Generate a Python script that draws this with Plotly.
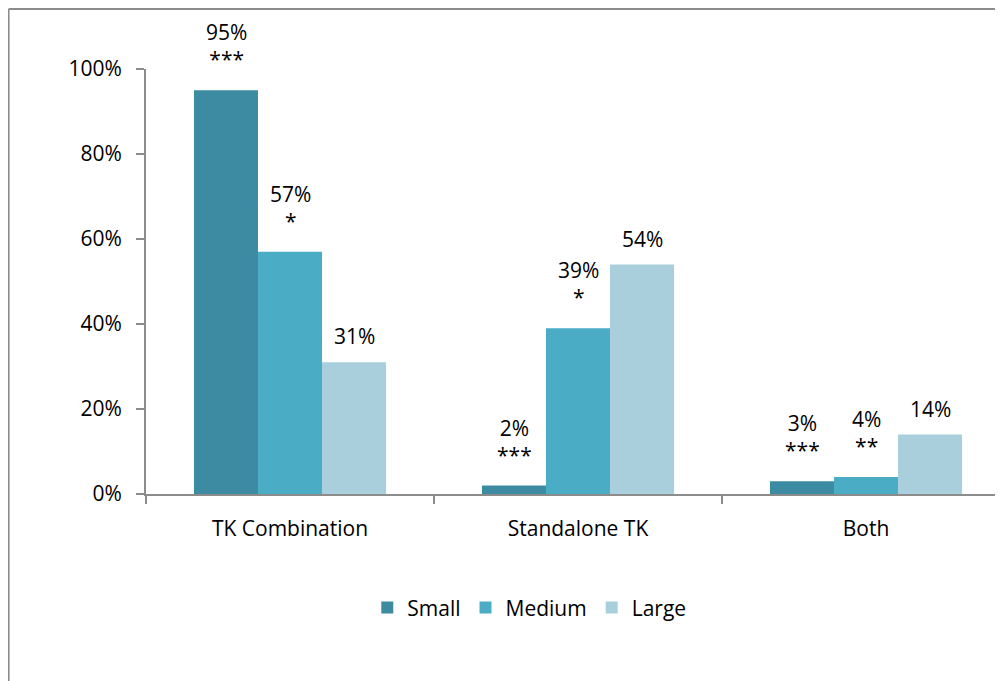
import plotly.graph_objects as go

categories = ["TK Combination", "Standalone TK", "Both"]
series_names = ["Small", "Medium", "Large"]
small = [0.95, 0.02, 0.03]
medium = [0.57, 0.39, 0.04]
large = [0.31, 0.54, 0.14]
small_sig = ["***", "***", "***"]
medium_sig = ["*", "*", "**"]
large_sig = ["", "", ""]
y_ticks = [0, 0.2, 0.4, 0.6, 0.8, 1.0]
y_tick_labels = ["0%", "20%", "40%", "60%", "80%", "100%"]

colors = ["#3D8BA2", "#4BACC6", "#A9CFDC"]
FONT = "'Open Sans', sans-serif"
FS = 21

# page body adds an 8px offset; layout coordinates below are figure coordinates
W, H = 1003, 681
L, R, T, B = 137.5, 1, 61, 195

fig = go.Figure()
all_vals = [small, medium, large]
all_sig = [small_sig, medium_sig, large_sig]
for name, vals, col in zip(series_names, all_vals, colors):
    fig.add_trace(go.Bar(name=name, x=categories, y=vals, marker=dict(color=col, line=dict(width=0))))

bar_px = 64
for j, (vals, sig) in enumerate(zip(all_vals, all_sig)):
    for cat, v, s in zip(categories, vals, sig):
        txt = f"{round(v*100)}%" + (f"<br>{s}" if s else "")
        fig.add_annotation(x=cat, y=v, xref="x", yref="y", text=txt, showarrow=False,
                           xshift=(j - 1) * bar_px, yshift=15 if s else 10, yanchor="bottom",
                           font=dict(family=FONT, size=FS, color="#000000"))

pw = W - L - R
ph = H - T - B
def px(x):
    return (x - L) / pw
def py(y):
    return (H - B - y) / ph

# chart-area border (left and top visible)
fig.add_shape(type="line", xref="paper", yref="paper", x0=px(0), x1=px(1010), y0=py(1), y1=py(1),
              line=dict(color="#8C8C8C", width=2))
fig.add_shape(type="line", xref="paper", yref="paper", x0=px(0), x1=px(0), y0=py(1), y1=py(690),
              line=dict(color="#8C8C8C", width=2))

fig.update_layout(
    width=W, height=H,
    margin=dict(l=L, r=R, t=T, b=B),
    barmode="group", bargap=0.333, bargroupgap=0,
    plot_bgcolor="white", paper_bgcolor="white",
    font=dict(family=FONT, size=FS, color="#000000"),
    showlegend=True,
    legend=dict(orientation="h", x=px(521), xanchor="center", y=-0.268, yanchor="middle",
                font=dict(family=FONT, size=FS), itemwidth=30, traceorder="normal"),
    xaxis=dict(showline=True, linecolor="#8C8C8C", linewidth=2, ticks="outside",
               tickson="boundaries", ticklen=8, tickcolor="#8C8C8C", tickwidth=2,
               tickfont=dict(family=FONT, size=FS), showgrid=False, zeroline=False,
               ticklabelstandoff=15),
    yaxis=dict(range=[0, 1.0], tickvals=y_ticks, ticktext=y_tick_labels, showline=True,
               linecolor="#8C8C8C", linewidth=2, ticks="outside", ticklen=8,
               tickcolor="#8C8C8C", tickwidth=2, showgrid=False, zeroline=False,
               tickfont=dict(family=FONT, size=FS), ticklabelstandoff=10),
)

fig.write_html("out.html")
